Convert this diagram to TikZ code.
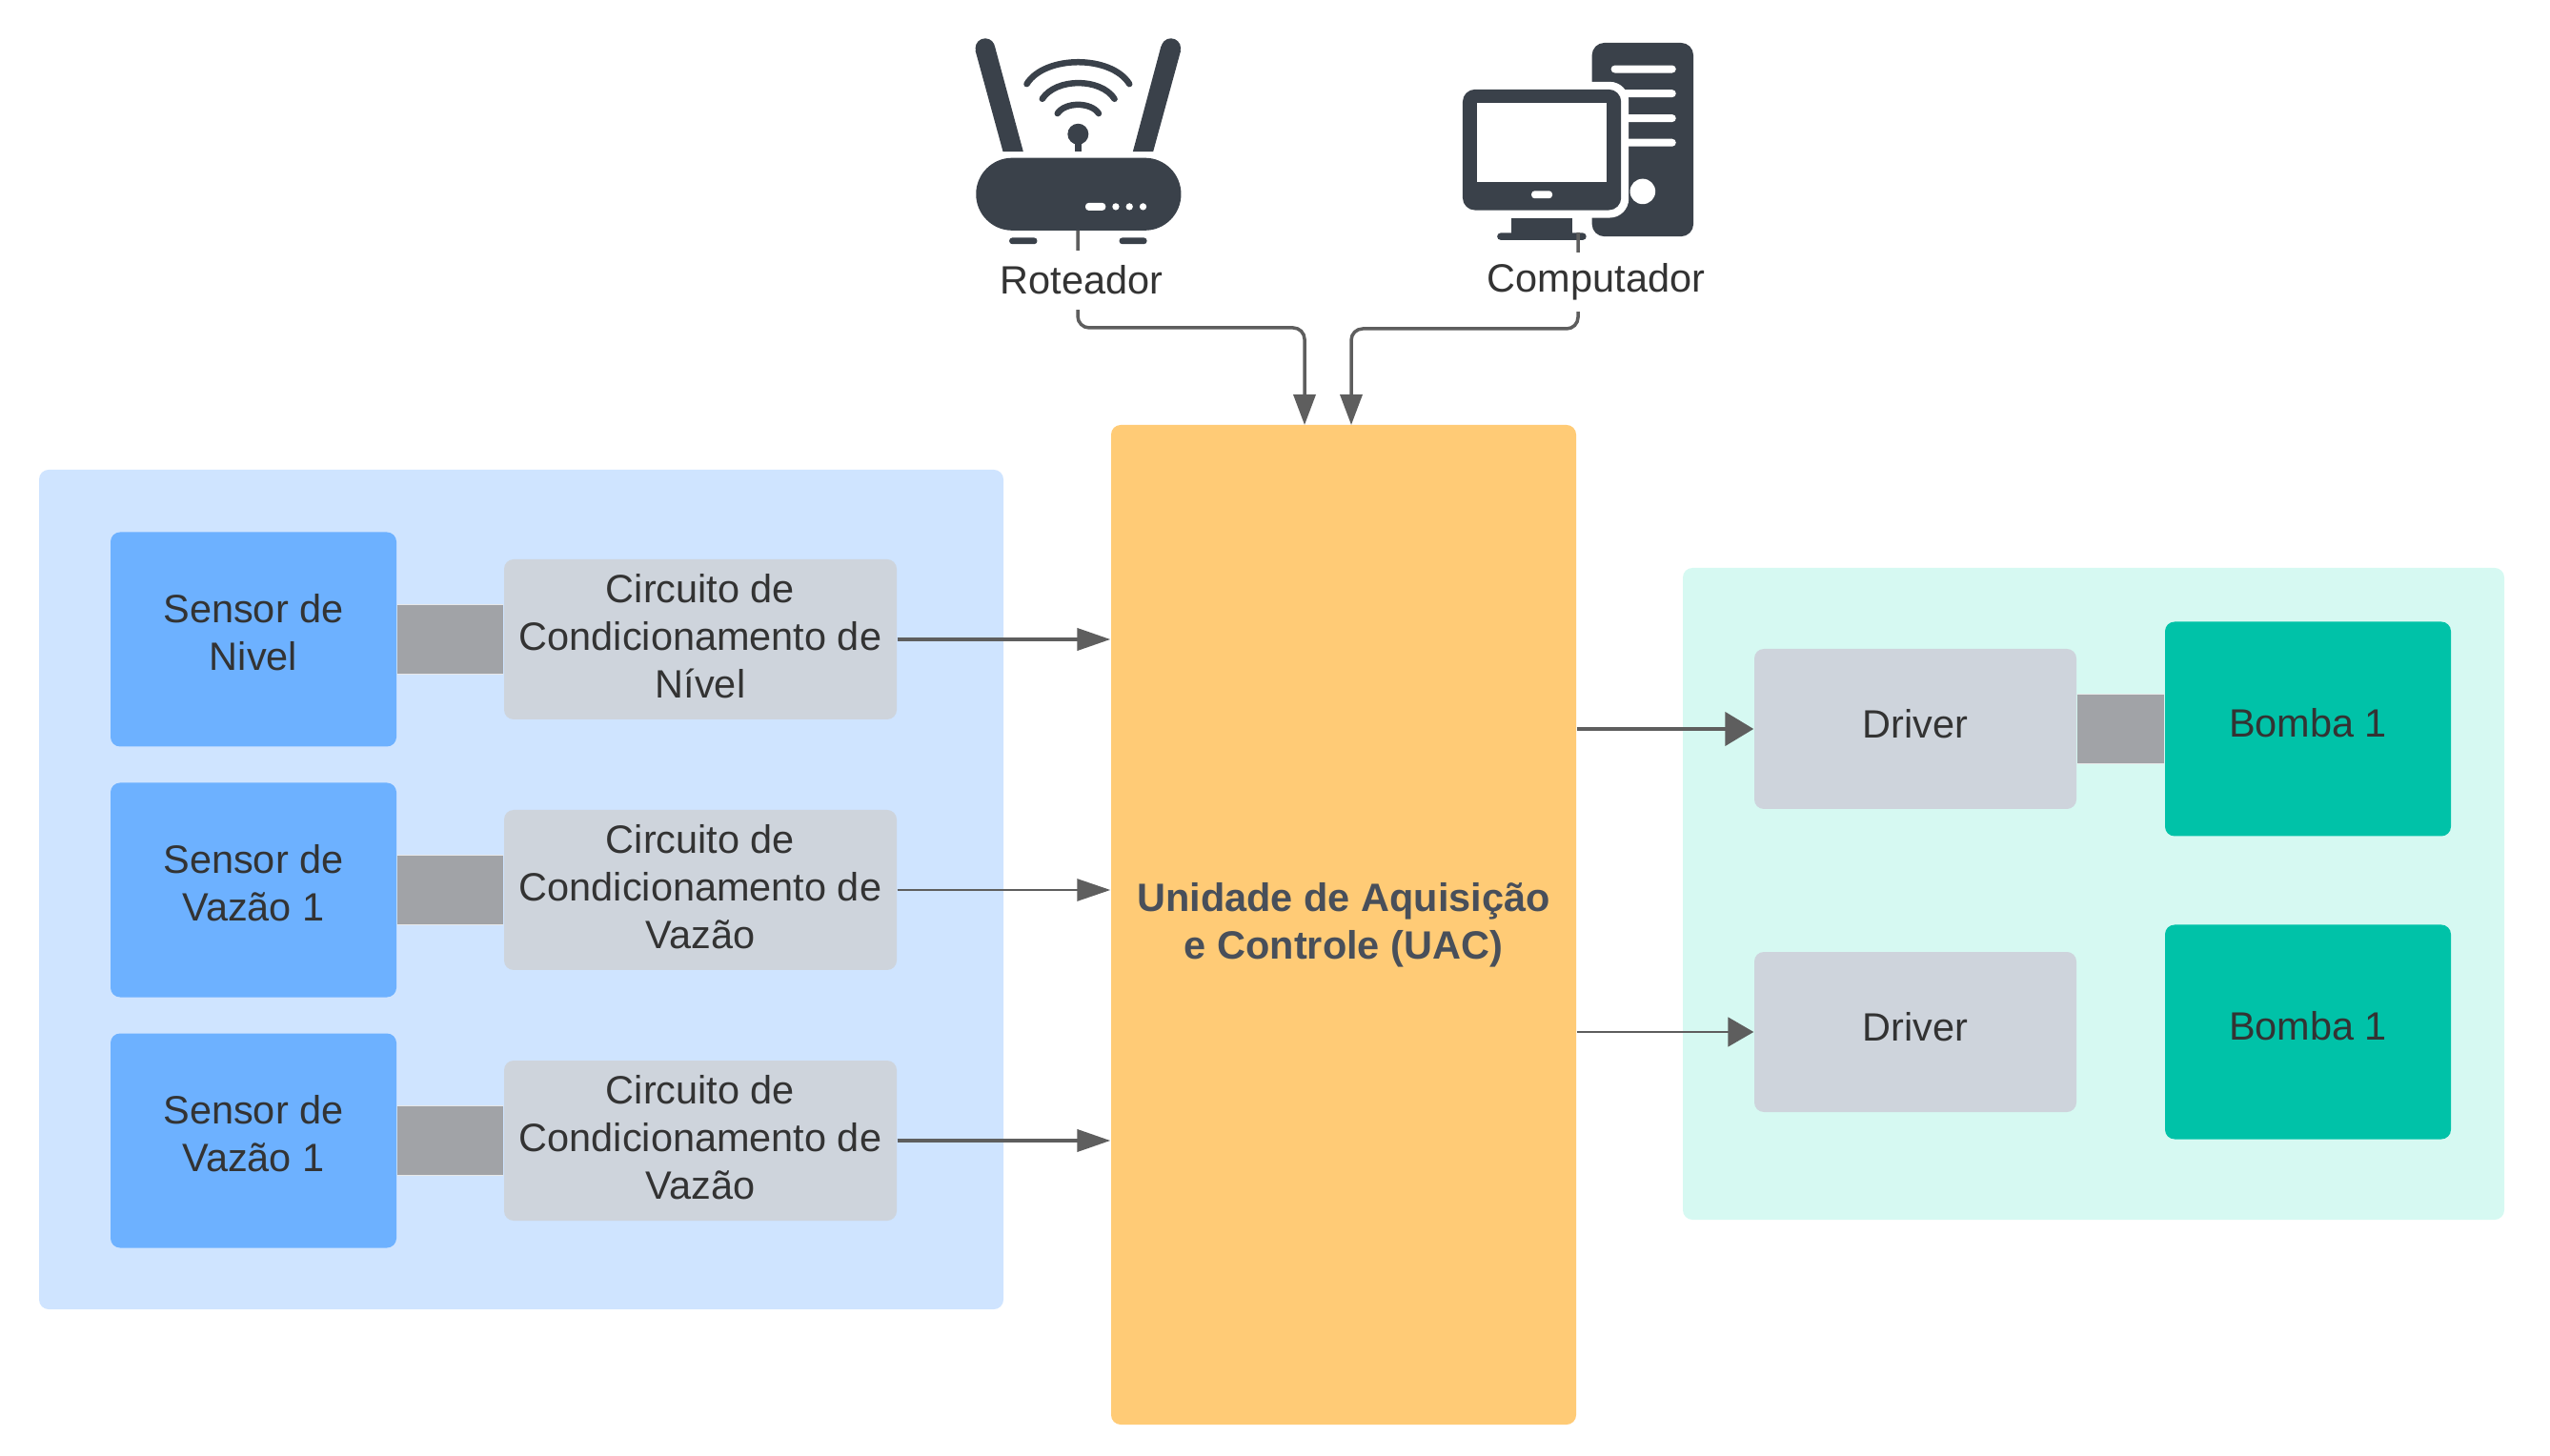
\documentclass[tikz,border=0pt]{standalone}
\usepackage{fontspec}
\setmainfont{Liberation Sans}
\usepackage{xcolor}
\definecolor{PanelBlue}  {RGB}{207, 228, 255}
\definecolor{SensorBlue} {RGB}{109, 177, 255}
\definecolor{BoxGray}    {RGB}{206, 212, 220}
\definecolor{LinkGray}   {RGB}{161, 163, 167}
\definecolor{UacOrange}  {RGB}{255, 203, 118}
\definecolor{PanelGreen} {RGB}{214, 249, 242}
\definecolor{PumpGreen}  {RGB}{0,   194, 168}
\definecolor{IconDark}   {RGB}{58,  65,  74}
\definecolor{UacText}    {RGB}{72,  79,  90}
\definecolor{ArrowGray}  {RGB}{94,  94,  94}
\definecolor{TextDark}   {RGB}{51,  51,  51}
\usetikzlibrary{arrows.meta}

\begin{document}
\begin{tikzpicture}[
  panel/.style={
    rounded corners=0.1cm,
    inner sep=0pt},
  box/.style={
    rounded corners=0.1cm,
    align=center, text=TextDark,
    font=\fontsize{11.8}{14.1}\selectfont,
    inner sep=0pt},
  sensor/.style={
    box, fill=SensorBlue,
    text depth=0.15cm,
    minimum width=3cm,
    minimum height=2.25cm},
  circuit/.style={
    box, fill=BoxGray,
    text depth=0.07cm,
    minimum width=4.12cm,
    minimum height=1.68cm},
  driver/.style={
    box, fill=BoxGray,
    text depth=0.12cm,
    minimum width=3.38cm,
    minimum height=1.68cm},
  pump/.style={
    box, fill=PumpGreen,
    text depth=0.14cm,
    minimum width=3cm,
    minimum height=2.25cm},
  devicelabel/.style={
    fill=white, text=TextDark,
    font=\fontsize{11.8}{14.1}\selectfont,
    inner sep=0pt, minimum height=0.62cm},
  link/.style={
    draw=white!75!LinkGray, line width=0.4pt,
    double=LinkGray, double distance=0.72cm},
  arrow/.style={
    draw=ArrowGray, line width=1pt,
    -{Triangle[length=0.35cm,width=0.23cm,fill=ArrowGray]}}
]
\useasboundingbox (0,0) rectangle (26.76,-15.28);

% panels
\node[panel, fill=PanelBlue, minimum width=10.12cm, minimum height=8.81cm]
  (left) at (5.47,-9.335) {};
\node[panel, fill=PanelGreen, minimum width=8.62cm, minimum height=6.84cm]
  (right) at (21.97,-9.38) {};

\node[sensor] (s1) at (2.66,-6.71) {Sensor de\\Nivel};
\node[sensor] (s2) at (2.66,-9.34) {Sensor de\\Vazão 1};
\node[sensor] (s3) at (2.66,-11.97) {Sensor de\\Vazão 1};

\node[circuit] (c1) at (7.35,-6.71) {Circuito de\\Condicionamento de\\Nível};
\node[circuit] (c2) at (7.35,-9.34) {Circuito de\\Condicionamento de\\Vazão};
\node[circuit] (c3) at (7.35,-11.97) {Circuito de\\Condicionamento de\\Vazão};

\node[box, fill=UacOrange, text=UacText, font=\fontsize{11.8}{14.1}\selectfont\bfseries,
  minimum width=4.88cm, minimum height=10.49cm]
  (uac) at (14.10,-9.705) {Unidade de Aquisição\\e Controle (UAC)};

\node[driver] (d1) at (20.10,-7.65) {Driver};
\node[driver] (d2) at (20.10,-10.83) {Driver};
\node[pump] (b1) at (24.22,-7.65) {Bomba 1};
\node[pump] (b2) at (24.22,-10.83) {Bomba 1};

% router icon
\begin{scope}[shift={(9.80,-0.20)}, x=0.00333cm, y=-0.00333cm, IconDark]
  \fill (218,418) -- (131,100) -- (192,85) -- (282,418) -- cycle;
  \fill (162,92) circle[radius=31];
  \fill (628,418) -- (717,85) -- (779,100) -- (692,418) -- cycle;
  \fill (748,92) circle[radius=31];
  \fill[rounded corners=0.38cm] (133,438) rectangle (780,667);
  \fill[rounded corners=0.03cm] (238,690) -- (326,690) -- (326,710) -- (238,710) -- cycle;
  \fill[rounded corners=0.03cm] (585,690) -- (672,690) -- (672,710) -- (585,710) -- cycle;
  \fill[white, rounded corners=0.035cm] (478,580) rectangle (542,604);
  \foreach \x in {574,617,660}{
    \fill[white] (\x,592) circle[radius=11];
  }
  \draw[line width=0.065cm, line cap=round] (293,205) .. controls (350,113) and (560,113) .. (617,205);
  \draw[line width=0.065cm, line cap=round] (342,252) .. controls (385,185) and (527,185) .. (570,252);
  \draw[line width=0.065cm, line cap=round] (390,298) .. controls (414,261) and (496,261) .. (520,298);
  \fill (455,363) circle[radius=33];
  \fill (444,385) rectangle (467,418);
\end{scope}

% computer icon
\begin{scope}[shift={(15.00,-0.20)}, x=0.00333cm, y=-0.00333cm, IconDark]
  \fill[rounded corners=0.13cm] (513,75) rectangle (833,686);
  \foreach \y in {158,235,313,390}{
    \fill[white, rounded corners=0.04cm] (573,\y-12) rectangle (778,\y+12);
  }
  \fill[white] (673,544) circle[radius=40];
  \fill[white, rounded corners=0.2cm] (81,198) rectangle (629,627);
  \fill[rounded corners=0.13cm] (105,222) rectangle (605,603);
  \fill[white] (151,266) rectangle (558,513);
  \fill[white, rounded corners=0.035cm] (322,542) rectangle (388,566);
  \fill (260,627) rectangle (450,680);
  \fill[rounded corners=0.035cm] (214,675) rectangle (495,697);
\end{scope}

\coordinate (rotout) at (11.31,-2.42);
\coordinate (rotbend) at (13.69,-3.44);
\coordinate (rotin) at (13.69,-4.46);
\coordinate (compout) at (16.56,-2.44);
\coordinate (compbend) at (14.18,-3.45);
\coordinate (compin) at (14.18,-4.46);

\draw[arrow, rounded corners=0.12cm, -{Triangle[length=0.32cm,width=0.23cm,fill=ArrowGray]}]
  (rotout) |- (rotbend) -- (rotin);
\draw[arrow, rounded corners=0.12cm, -{Triangle[length=0.32cm,width=0.23cm,fill=ArrowGray]}]
  (compout) |- (compbend) -- (compin);

\node[devicelabel] (rot) at (11.35,-2.94) {Roteador};
\node[devicelabel] (comp) at (16.75,-2.96) {Computador};

\foreach \s/\c in {s1/c1,s2/c2,s3/c3}{
  \draw[link] (\s.east) -- (\c.west);
}
\draw[link] (d1.east) -- (b1.west);

\draw[arrow, line width=1.15pt] (c1.east) -- (c1.east -| uac.west);
\draw[arrow, line width=0.85pt] (c2.east) -- (c2.east -| uac.west);
\draw[arrow, line width=1.15pt] (c3.east) -- (c3.east -| uac.west);

\draw[arrow, line width=1.25pt, -{Triangle[length=0.3cm,width=0.35cm,fill=ArrowGray]}]
  (uac.east |- d1.west) -- (d1.west);
\draw[arrow, line width=0.4pt, -{Triangle[length=0.27cm,width=0.31cm,fill=ArrowGray]}]
  (uac.east |- d2.west) -- (d2.west);
\end{tikzpicture}
\end{document}
